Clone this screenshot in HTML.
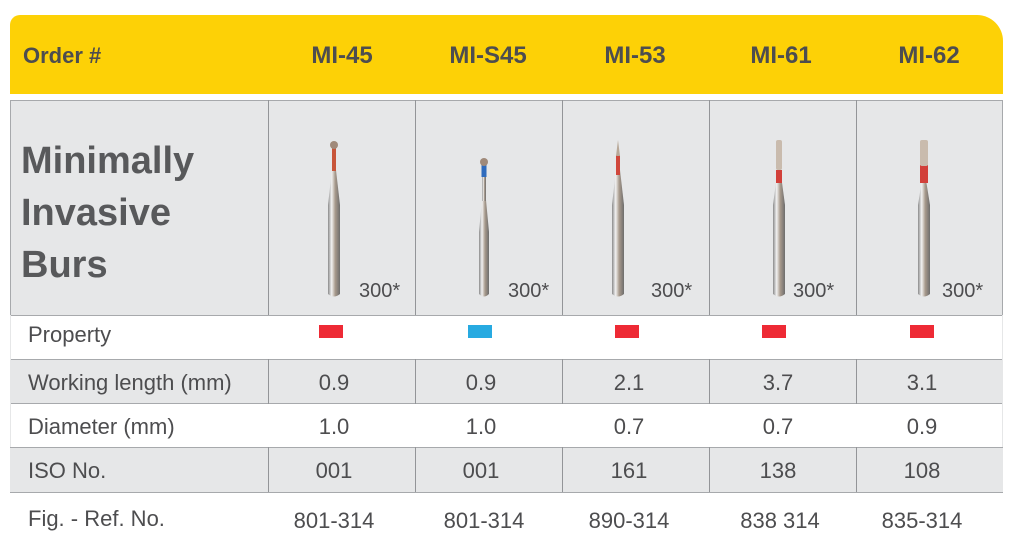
<!DOCTYPE html>
<html><head><meta charset="utf-8"><style>
body{margin:0;width:1012px;height:541px;background:#fff;position:relative;overflow:hidden;font-family:"Liberation Sans",sans-serif;color:#4d4d4f}
.a{position:absolute;white-space:nowrap}
.hdr{position:absolute;left:10px;top:15px;width:993px;height:79px;background:#fdd106;border-radius:10px 26px 0 0}
.h{position:absolute;top:42px;font-weight:bold;font-size:24px;color:#4d4d4f;transform:translateX(-50%)}
.row{position:absolute;left:10px;width:993px;box-sizing:border-box}
.t{font-size:22px;color:#4d4d4f}
.c{position:absolute;transform:translateX(-50%);font-size:22px;color:#4d4d4f}
.sw{position:absolute;width:24px;height:13px;top:325px}
</style></head><body>
<div class="hdr"></div>
<div class="a" style="left:23px;top:43px;font-weight:bold;font-size:22px">Order #</div>
<div class="h" style="left:342px">MI-45</div>
<div class="h" style="left:488px">MI-S45</div>
<div class="h" style="left:635px">MI-53</div>
<div class="h" style="left:781px">MI-61</div>
<div class="h" style="left:929px">MI-62</div>

<div class="row" style="top:100px;height:216px;background:#e6e7e8;border:1px solid #a7a9ac"></div>
<div class="row" style="top:359px;height:45px;background:#e6e7e8;border-top:1px solid #a7a9ac;border-bottom:1px solid #a7a9ac"></div>
<div class="row" style="top:447px;height:46px;background:#e6e7e8;border-top:1px solid #a7a9ac;border-bottom:1px solid #a7a9ac"></div>
<div class="row" style="top:315px;height:132px;border-left:1px solid #e6e7e8;border-right:1px solid #e6e7e8"></div>

<svg class="a" style="left:0;top:0" width="1012" height="541">
<g stroke="#939598" stroke-width="1">
<line x1="268.5" y1="100" x2="268.5" y2="315"/><line x1="415.5" y1="100" x2="415.5" y2="315"/><line x1="562.5" y1="100" x2="562.5" y2="315"/><line x1="709.5" y1="100" x2="709.5" y2="315"/><line x1="856.5" y1="100" x2="856.5" y2="315"/>
<line x1="268.5" y1="359" x2="268.5" y2="404"/><line x1="415.5" y1="359" x2="415.5" y2="404"/><line x1="562.5" y1="359" x2="562.5" y2="404"/><line x1="709.5" y1="359" x2="709.5" y2="404"/><line x1="856.5" y1="359" x2="856.5" y2="404"/>
<line x1="268.5" y1="447" x2="268.5" y2="492"/><line x1="415.5" y1="447" x2="415.5" y2="492"/><line x1="562.5" y1="447" x2="562.5" y2="492"/><line x1="709.5" y1="447" x2="709.5" y2="492"/><line x1="856.5" y1="447" x2="856.5" y2="492"/>
</g>
<defs><linearGradient id="m" x1="0" x2="1"><stop offset="0" stop-color="#8a8a8a"/><stop offset="0.3" stop-color="#f2f2f2"/><stop offset="0.6" stop-color="#a89a8c"/><stop offset="1" stop-color="#6d6d6d"/></linearGradient></defs>
<path d="M328 205 L332 170 L336 170 L340 205 L340 294 Q334 299 328 294 Z" fill="url(#m)"/>
<rect x="332" y="147" width="4" height="24" fill="#c8553a"/>
<circle cx="334" cy="145" r="4" fill="#a08a7a"/>
<path d="M479 232 L482 200 L486 200 L489 232 L489 294 Q484 299 479 294 Z" fill="url(#m)"/>
<rect x="482" y="165" width="4" height="36" fill="url(#m)"/>
<rect x="481.5" y="165" width="5" height="12" fill="#2f6bbd"/>
<circle cx="484" cy="162" r="4" fill="#a08a7a"/>
<path d="M612 205 L616 170 L620 170 L624 205 L624 294 Q618 299 612 294 Z" fill="url(#m)"/>
<rect x="616" y="155" width="4" height="20" fill="#d0473b"/>
<path d="M616 156 L618 140 L620 156 Z" fill="#b8a898"/>
<path d="M773 205 L777 175 L781 175 L785 205 L785 294 Q779 299 773 294 Z" fill="url(#m)"/>
<rect x="776" y="170" width="6" height="13" fill="#d2403a"/>
<rect x="776" y="140" width="6" height="30" rx="2" fill="#c9bbad"/>
<path d="M918 205 L922 180 L926 180 L930 205 L930 294 Q924 299 918 294 Z" fill="url(#m)"/>
<rect x="920" y="165" width="8" height="18" fill="#d2403a"/>
<rect x="920" y="140" width="8" height="26" rx="2" fill="#c9bbad"/>
</svg>

<div class="a" style="left:21px;top:135px;font-weight:bold;font-size:38px;line-height:52px;color:#58595b">Minimally<br>Invasive<br>Burs</div>
<div class="a" style="left:359px;top:280px;font-size:20px">300*</div>
<div class="a" style="left:508px;top:280px;font-size:20px">300*</div>
<div class="a" style="left:651px;top:280px;font-size:20px">300*</div>
<div class="a" style="left:793px;top:280px;font-size:20px">300*</div>
<div class="a" style="left:942px;top:280px;font-size:20px">300*</div>

<div class="a t" style="left:28px;top:322px">Property</div>
<div class="sw" style="left:319px;background:#ee2a35"></div>
<div class="sw" style="left:468px;background:#27aae1"></div>
<div class="sw" style="left:615px;background:#ee2a35"></div>
<div class="sw" style="left:762px;background:#ee2a35"></div>
<div class="sw" style="left:910px;background:#ee2a35"></div>

<div class="a t" style="left:28px;top:370px">Working length (mm)</div>
<div class="c" style="left:334px;top:370px">0.9</div><div class="c" style="left:481px;top:370px">0.9</div><div class="c" style="left:629px;top:370px">2.1</div><div class="c" style="left:778px;top:370px">3.7</div><div class="c" style="left:922px;top:370px">3.1</div>

<div class="a t" style="left:28px;top:414px">Diameter (mm)</div>
<div class="c" style="left:334px;top:414px">1.0</div><div class="c" style="left:481px;top:414px">1.0</div><div class="c" style="left:629px;top:414px">0.7</div><div class="c" style="left:778px;top:414px">0.7</div><div class="c" style="left:922px;top:414px">0.9</div>

<div class="a t" style="left:28px;top:458px">ISO No.</div>
<div class="c" style="left:334px;top:458px">001</div><div class="c" style="left:481px;top:458px">001</div><div class="c" style="left:629px;top:458px">161</div><div class="c" style="left:778px;top:458px">138</div><div class="c" style="left:922px;top:458px">108</div>

<div class="a t" style="left:28px;top:506px">Fig. - Ref. No.</div>
<div class="c" style="left:334px;top:508px">801-314</div><div class="c" style="left:484px;top:508px">801-314</div><div class="c" style="left:629px;top:508px">890-314</div><div class="c" style="left:780px;top:508px">838 314</div><div class="c" style="left:922px;top:508px">835-314</div>
</body></html>
